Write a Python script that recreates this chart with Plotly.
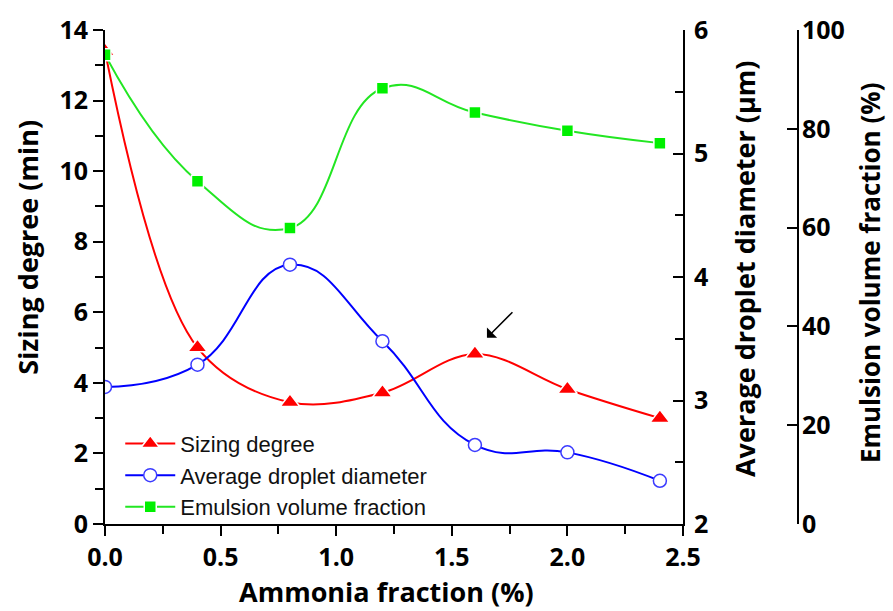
import plotly.graph_objects as go

ammonia = [0.0, 0.4, 0.8, 1.2, 1.6, 2.0, 2.4]
sizing_degree = [13.4, 5.0, 3.45, 3.72, 4.82, 3.82, 3.0]
droplet_diameter = [3.11, 3.29, 4.10, 3.48, 2.64, 2.58, 2.35]
emulsion_fraction = [95.0, 69.4, 59.9, 88.2, 83.3, 79.6, 77.1]

names = ["Sizing degree", "Average droplet diameter", "Emulsion volume fraction"]
x_title = "Ammonia fraction (%)"
y1_title = "Sizing degree (min)"
y2_title = "Average droplet diameter (μm)"
y3_title = "Emulsion volume fraction (%)"

RED = "#FF0000"
BLUE = "#0000FF"
GREEN = "#22E622"
BOLD = dict(family="Open Sans", size=25, color="black", weight="bold")
TITLE = dict(family="Open Sans", size=27, color="black", weight="bold")

fig = go.Figure()
fig.add_trace(go.Scatter(
    x=ammonia, y=sizing_degree, name=names[0], mode="lines+markers",
    line=dict(color=RED, width=2, shape="spline", smoothing=1),
    marker=dict(symbol="triangle-up", size=17, color=RED, line=dict(color="white", width=1.5)),
    yaxis="y"))
fig.add_trace(go.Scatter(
    x=ammonia, y=droplet_diameter, name=names[1], mode="lines+markers",
    line=dict(color=BLUE, width=2, shape="spline", smoothing=1.3),
    marker=dict(symbol="circle", size=13, color="white", line=dict(color="#3B3BFF", width=1.5)),
    yaxis="y2"))
fig.add_trace(go.Scatter(
    x=ammonia, y=emulsion_fraction, name=names[2], mode="lines+markers",
    line=dict(color=GREEN, width=2, shape="spline", smoothing=1.3),
    marker=dict(symbol="square", size=12, color="#00F000", line=dict(color="white", width=1.5)),
    yaxis="y3"))

axis_common = dict(showline=True, linecolor="black", linewidth=2, showgrid=False, zeroline=False,
                   tickcolor="black", tickwidth=2, ticklen=10, tickfont=BOLD)

fig.update_layout(
    width=893, height=611,
    margin=dict(l=105, r=95, t=26, b=87),
    paper_bgcolor="white", plot_bgcolor="white",
    showlegend=True,
    legend=dict(x=0.022, y=0.205, xanchor="left", yanchor="top", bgcolor="rgba(0,0,0,0)",
                font=dict(family="Liberation Sans", size=22, color="#111"), tracegroupgap=0,
                itemwidth=50),
    xaxis=dict(domain=[0, 578 / 693], range=[0, 2.5], dtick=0.5, tickformat=".1f", ticks="outside",
               minor=dict(dtick=0.25, ticks="outside", ticklen=8, tickwidth=2, tickcolor="black"),
               **axis_common),
    yaxis=dict(range=[0, 14], dtick=2, ticks="outside",
               minor=dict(dtick=1, ticks="outside", ticklen=8, tickwidth=2, tickcolor="black"),
               **axis_common),
    yaxis2=dict(range=[2, 6], dtick=1, ticks="inside", side="right", overlaying="y", anchor="x",
                ticklabelstandoff=4,
                minor=dict(dtick=0.5, ticks="inside", ticklen=8, tickwidth=2, tickcolor="black"),
                **axis_common),
    yaxis3=dict(range=[0, 100], dtick=20, ticks="inside", side="right", overlaying="y",
                anchor="free", position=1.0, ticklabelstandoff=-2, **axis_common),
)

ann = [
    dict(text=x_title, x=0.406, y=-0.137, xref="paper", yref="paper", showarrow=False,
         xanchor="center", yanchor="middle", font=TITLE),
    dict(text=y1_title, x=-0.112, y=0.560, xref="paper", yref="paper", showarrow=False,
         xanchor="center", yanchor="middle", textangle=-90, font=TITLE),
    dict(text=y2_title, x=0.922, y=0.516, xref="paper", yref="paper", showarrow=False,
         xanchor="center", yanchor="middle", textangle=-90, font=TITLE),
    dict(text=y3_title, x=1.104, y=0.508, xref="paper", yref="paper", showarrow=False,
         xanchor="center", yanchor="middle", textangle=-90,
         font=dict(family="Open Sans", size=26, color="black", weight="bold")),
    dict(text="", x=1.652, y=5.28, xref="x", yref="y", showarrow=True, ax=27, ay=-27,
         arrowhead=1, arrowsize=1.6, arrowwidth=1.5, arrowcolor="black"),
]
fig.update_layout(annotations=ann)

fig.write_html("out.html")
